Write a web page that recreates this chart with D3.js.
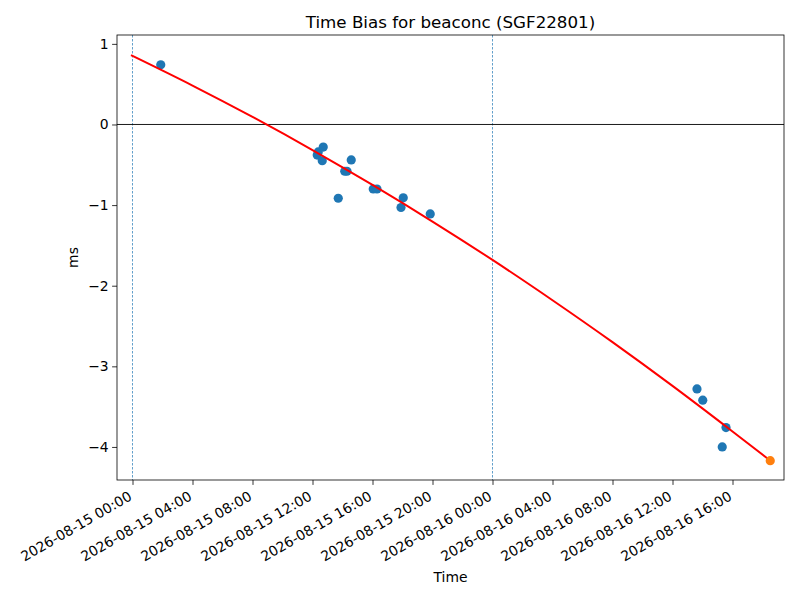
<!DOCTYPE html>
<html><head><meta charset="utf-8">
<script src="https://cdn.jsdelivr.net/npm/d3@7"></script>
<style>
body{margin:0;background:#fff;}
text{font-family:"DejaVu Sans",sans-serif;fill:#000;}
</style></head>
<body><svg id="c" width="800" height="600"></svg>
<script>
const obsTimes = ["2026-08-15T01:53","2026-08-15T12:19","2026-08-15T12:23","2026-08-15T12:43","2026-08-15T12:39",
  "2026-08-15T13:43","2026-08-15T14:09","2026-08-15T14:18","2026-08-15T14:35","2026-08-15T16:03","2026-08-15T16:18",
  "2026-08-15T18:03","2026-08-15T17:54","2026-08-15T19:51","2026-08-16T13:38","2026-08-16T14:01","2026-08-16T15:34",
  "2026-08-16T15:19"];
const obsValues = [0.74,-0.38,-0.34,-0.28,-0.45,-0.915,-0.58,-0.58,-0.44,-0.80,-0.80,-0.91,-1.03,-1.11,-3.28,-3.42,-3.76,-4.00];
const predTimes = ["2026-08-16T18:31"];
const predValues = [-4.17];
const fitTimes = ["2026-08-14T23:54","2026-08-15T04:00","2026-08-15T08:00","2026-08-15T12:00","2026-08-15T16:00",
  "2026-08-15T20:00","2026-08-16T00:00","2026-08-16T04:00","2026-08-16T08:00","2026-08-16T12:00","2026-08-16T16:00","2026-08-16T18:31"];
const fitValues = [0.86,0.483,0.094,-0.317,-0.75,-1.204,-1.68,-2.18,-2.70,-3.243,-3.808,-4.17];
const dayLines = ["2026-08-15T00:00","2026-08-16T00:00"];
const xTickTimes = ["2026-08-15T00:00","2026-08-15T04:00","2026-08-15T08:00","2026-08-15T12:00","2026-08-15T16:00",
  "2026-08-15T20:00","2026-08-16T00:00","2026-08-16T04:00","2026-08-16T08:00","2026-08-16T12:00","2026-08-16T16:00"];
const yTicks = [1,0,-1,-2,-3,-4];
const xDomain = ["2026-08-14T22:58","2026-08-16T19:26"];
const yDomain = [-4.41,1.11];

const P = s => new Date(s+":00Z");
const fmt = d3.utcFormat("%Y-%m-%d %H:%M");
const L=117,R=784,T=35,B=480;
const x = d3.scaleUtc().domain(xDomain.map(P)).range([L,R]);
const y = d3.scaleLinear().domain(yDomain).range([B,T]);
const svg = d3.select("#c");

// day lines
svg.selectAll(".day").data(dayLines).enter().append("line")
  .attr("x1",d=>x(P(d))).attr("x2",d=>x(P(d))).attr("y1",T).attr("y2",B)
  .attr("stroke","#1f77b4").attr("stroke-width",0.7).attr("stroke-dasharray","2.5,1.5");
// zero line
svg.append("line").attr("x1",L).attr("x2",R).attr("y1",y(0)).attr("y2",y(0))
  .attr("stroke","#000").attr("stroke-width",0.9);

// scatter
svg.selectAll(".obs").data(obsTimes.map((t,i)=>[P(t),obsValues[i]])).enter().append("circle")
  .attr("cx",d=>x(d[0])).attr("cy",d=>y(d[1])).attr("r",4.6).attr("fill","#1f77b4");
// fit
svg.append("path").datum(fitTimes.map((t,i)=>[P(t),fitValues[i]]))
  .attr("d",d3.line().x(d=>x(d[0])).y(d=>y(d[1])).curve(d3.curveMonotoneX))
  .attr("fill","none").attr("stroke","#ff0000").attr("stroke-width",2);
svg.selectAll(".pred").data(predTimes.map((t,i)=>[P(t),predValues[i]])).enter().append("circle")
  .attr("cx",d=>x(d[0])).attr("cy",d=>y(d[1])).attr("r",4.6).attr("fill","#ff7f0e");

// axes
const xa = svg.append("g").attr("transform",`translate(0,${B})`)
  .call(d3.axisBottom(x).tickValues(xTickTimes.map(P)).tickSize(4.9).tickPadding(0).tickFormat(""));
xa.select(".domain").remove();
xa.selectAll("line").attr("stroke","#000").attr("stroke-width",0.8);
svg.selectAll(".xl").data(xTickTimes).enter().append("text")
  .attr("transform",d=>`translate(${x(P(d))-5},${B+10}) rotate(-30)`)
  .attr("text-anchor","end").attr("dy","0.76em").attr("font-size","13.9px").text(d=>fmt(P(d)));

const ya = svg.append("g").attr("transform",`translate(${L},0)`)
  .call(d3.axisLeft(y).tickValues(yTicks).tickSize(4.9).tickPadding(3.5).tickFormat(d=>d<0?"\u2212"+Math.abs(d):d));
ya.select(".domain").remove();
ya.selectAll("line").attr("stroke","#000").attr("stroke-width",0.8);
ya.selectAll("text").attr("font-size","13.9px").attr("font-family","DejaVu Sans");

svg.append("rect").attr("x",L).attr("y",T).attr("width",R-L).attr("height",B-T)
  .attr("fill","none").attr("stroke","#000").attr("stroke-width",0.8);

svg.append("text").attr("x",(L+R)/2).attr("y",28).attr("text-anchor","middle").attr("font-size","16.7px")
  .text("Time Bias for beaconc (SGF22801)");
svg.append("text").attr("x",(L+R)/2).attr("y",582).attr("text-anchor","middle").attr("font-size","13.9px").text("Time");
svg.append("text").attr("transform",`translate(78,${(T+B)/2}) rotate(-90)`).attr("text-anchor","middle")
  .attr("font-size","13.9px").text("ms");
</script></body></html>
